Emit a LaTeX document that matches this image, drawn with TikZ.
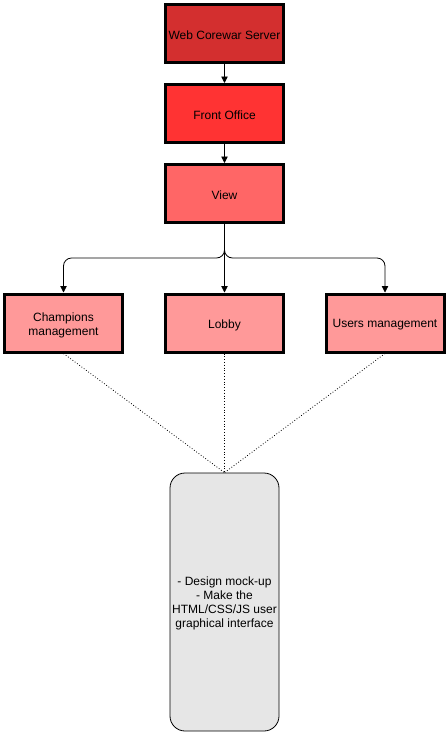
\documentclass[tikz,border=0pt]{standalone}
\usepackage{fontspec}
\setmainfont{Liberation Sans}
\usetikzlibrary{arrows.meta}
\definecolor{c1}{HTML}{D32F2F}
\definecolor{c2}{HTML}{FF3333}
\definecolor{c3}{HTML}{FF6666}
\definecolor{c4}{HTML}{FF9999}
\definecolor{c5}{HTML}{E6E6E6}
\begin{document}
\begin{tikzpicture}[x=1pt,y=-1pt,
  box/.style={draw=black,line width=3pt,minimum width=118pt,minimum height=58pt,inner sep=0pt,align=center,font=\fontsize{12}{14}\selectfont},
  lbl/.style={font=\fontsize{12}{14}\selectfont,align=center,inner sep=0pt},
  arr/.style={-{Triangle[length=6.5pt,width=6.5pt]},line width=0.8pt,rounded corners=8pt},
  dot/.style={dotted,line width=0.8pt}]
\useasboundingbox (0,0) rectangle (447,734);
\node[box,fill=c1] (srv) at (224.5,33.5) {};
\node[lbl] (srvt) at (224.5,35) {Web Corewar Server};
\node[box,fill=c2] (fo) at (224.5,113.5) {};
\node[lbl] (fot) at (224.5,115) {Front Office};
\node[box,fill=c3] (view) at (224.5,193.5) {};
\node[lbl] (viewt) at (224.5,195) {View};
\node[box,fill=c4] (champ) at (63.5,323) {};
\node[lbl] (champt) at (63.5,325) {Champions\\management};
\node[box,fill=c4] (lobby) at (224.5,323) {};
\node[lbl] (lobbyt) at (224.5,325) {Lobby};
\node[box,fill=c4] (users) at (385,323) {};
\node[lbl] (userst) at (385,325) {Users management};
\node[draw=black,line width=0.8pt,fill=c5,rounded corners=15pt,minimum width=109pt,minimum height=258pt,inner sep=0pt] (ui) at (224.5,602) {};
\node[lbl] (uit) at (224.5,603) {- Design mock-up\\- Make the\\HTML/CSS/JS user\\graphical interface};
\draw[arr] (srv) -- (fo);
\draw[arr] (fo) -- (view);
\draw[arr] (view) -- (lobby);
\draw[arr] (view.south) -- ++(0,34) -| (champ.north);
\draw[arr] (view.south) -- ++(0,34) -| (users.north);
\draw[dot] (champ.south) -- (ui.north);
\draw[dot] (lobby.south) -- (ui.north);
\draw[dot] (users.south) -- (ui.north);
\end{tikzpicture}
\end{document}
